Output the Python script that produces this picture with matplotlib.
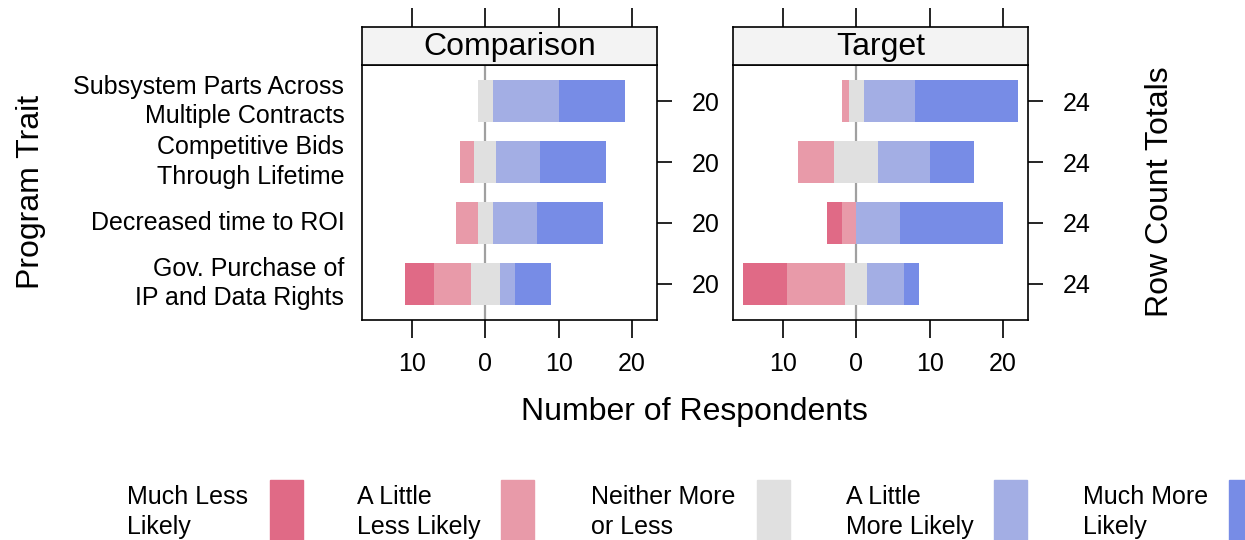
import matplotlib
matplotlib.use('Agg')
import matplotlib.pyplot as plt
import numpy as np
from matplotlib.patches import Rectangle

plt.rcParams['font.family'] = ['Liberation Sans', 'DejaVu Sans']

# rows from top to bottom
traits = ["Subsystem Parts Across\nMultiple Contracts",
          "Competitive Bids\nThrough Lifetime",
          "Decreased time to ROI",
          "Gov. Purchase of\nIP and Data Rights"]
levels = ["Much Less\nLikely", "A Little\nLess Likely", "Neither More\nor Less",
          "A Little\nMore Likely", "Much More\nLikely"]
colors = ["#E06A86", "#E89AA9", "#E0E0E0", "#A3AEE4", "#778CE6"]

comparison = {
    "much_less":   [0, 0, 0, 4],
    "little_less": [0, 2, 3, 5],
    "neutral":     [2, 3, 2, 4],
    "little_more": [9, 6, 6, 2],
    "much_more":   [9, 9, 9, 5],
}
target = {
    "much_less":   [0, 0, 2, 6],
    "little_less": [1, 5, 2, 8],
    "neutral":     [2, 6, 0, 3],
    "little_more": [7, 7, 6, 5],
    "much_more":   [14, 6, 14, 2],
}
panels = [("Comparison", comparison), ("Target", target)]

xticks = [-10, 0, 10, 20]
xticklabels = ["10", "0", "10", "20"]

W, H = 1245, 540
fig = plt.figure(figsize=(W / 100, H / 100), dpi=100)


def fx(px):
    return px / W


def fy(py):
    return 1 - py / H


panel_left = [362, 733]
panel_w = 295
panel_top, panel_bot = 65, 320
strip_top = 27

y = np.arange(len(traits))
bar_h = 0.69
keys = ["much_less", "little_less", "neutral", "little_more", "much_more"]

for i, (name, d) in enumerate(panels):
    ax = fig.add_axes([fx(panel_left[i]), fy(panel_bot), fx(panel_w),
                       (panel_bot - panel_top) / H])
    vals = {k: np.array(v, dtype=float) for k, v in d.items()}
    half = vals["neutral"] / 2
    # neutral is split across zero, the rest stacks outward
    ax.axvline(0, color="#A0A0A0", lw=1.6, zorder=1)
    ax.barh(y, vals["neutral"], left=-half, height=bar_h, color=colors[2], zorder=2)
    ax.barh(y, -vals["little_less"], left=-half, height=bar_h, color=colors[1], zorder=2)
    ax.barh(y, -vals["much_less"], left=-half - vals["little_less"], height=bar_h,
            color=colors[0], zorder=2)
    ax.barh(y, vals["little_more"], left=half, height=bar_h, color=colors[3], zorder=2)
    ax.barh(y, vals["much_more"], left=half + vals["little_more"], height=bar_h,
            color=colors[4], zorder=2)

    ax.set_xlim(-16.8, 23.4)
    ax.set_ylim(len(traits) - 0.4, -0.6)
    ax.set_xticks(xticks)
    ax.set_xticklabels(xticklabels, fontsize=18)
    ax.tick_params(axis='x', direction='out', length=13, width=1.2, pad=10)

    totals = sum(vals[k] for k in keys).astype(int)
    ax.yaxis.tick_right()
    ax.set_yticks(y)
    ax.set_yticklabels([str(t) for t in totals], fontsize=18)
    ax.tick_params(axis='y', direction='out', length=11, width=1.2, pad=14)
    for sp in ax.spines.values():
        sp.set_linewidth(1.2)

    if i == 0:
        for lab, yy in zip(traits, y):
            ax.text(-0.06, yy, lab, transform=ax.get_yaxis_transform(),
                    ha='right', va='center', fontsize=18, linespacing=1.3)

    # strip
    sax = fig.add_axes([fx(panel_left[i]), fy(panel_top), fx(panel_w),
                        (panel_top - strip_top) / H])
    sax.set_facecolor("#F3F3F3")
    sax.set_xlim(ax.get_xlim())
    sax.set_ylim(0, 1)
    sax.set_yticks([])
    sax.set_xticks(xticks)
    sax.xaxis.tick_top()
    sax.set_xticklabels([])
    sax.tick_params(axis='x', direction='out', length=14, width=1.2)
    for sp in sax.spines.values():
        sp.set_linewidth(1.2)
    sax.text(0.5, 0.47, name, transform=sax.transAxes, ha='center', va='center',
             fontsize=23)

fig.text(fx(694), fy(412), "Number of Respondents", ha='center', va='center', fontsize=23)
fig.text(fx(31), fy(192), "Program Trait", ha='center', va='center', rotation=90,
         fontsize=23)
fig.text(fx(1160), fy(192), "Row Count Totals", ha='center', va='center', rotation=90,
         fontsize=23)

# legend
text_x = [127, 357, 591, 846, 1083]
rect_x = [270, 501, 757, 994, 1229]
for lab, c, tx, rx in zip(levels, colors, text_x, rect_x):
    fig.text(fx(tx), fy(512), lab, ha='left', va='center', fontsize=18, linespacing=1.3)
    fig.patches.append(Rectangle((fx(rx), fy(545)), fx(33), 65 / H, color=c,
                                 transform=fig.transFigure, figure=fig))

fig.savefig("out.png", dpi=100)
